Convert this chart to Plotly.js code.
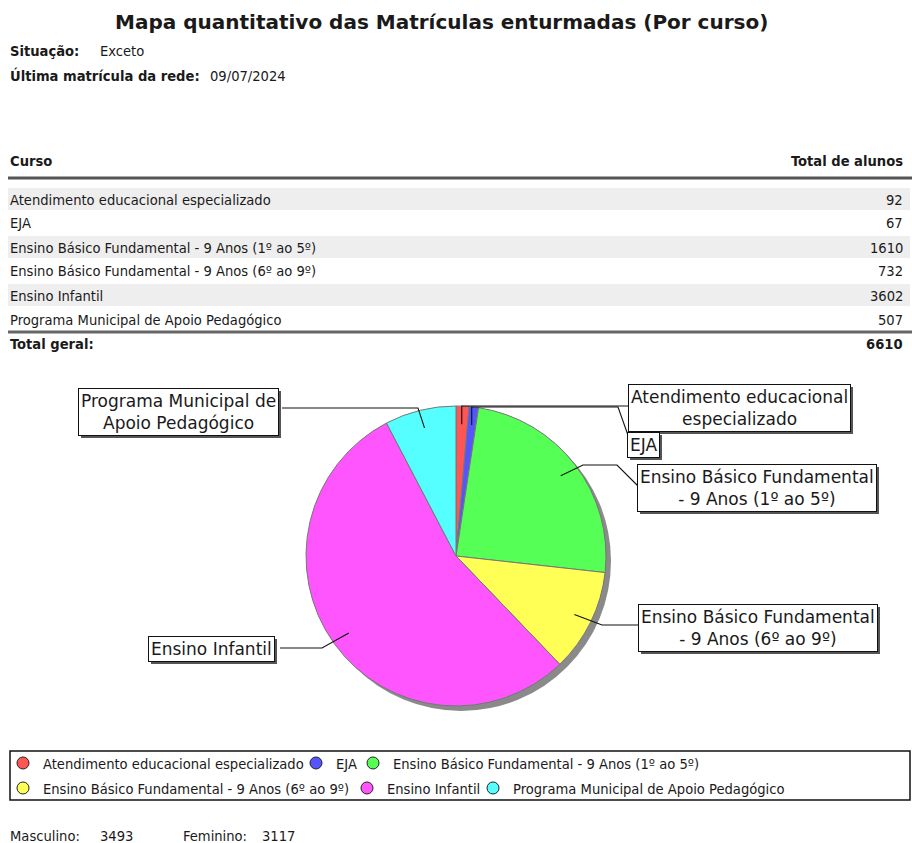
<!DOCTYPE html>
<html><head><meta charset="utf-8">
<script src="https://cdn.plot.ly/plotly-3.0.1.min.js"></script>
<style>html,body{margin:0;padding:0;background:#fff;}#chart{width:912px;height:843px;}</style>
</head><body><div id="chart"></div>
<script>
// ---- data ----
const reportTitle = 'Mapa quantitativo das Matrículas enturmadas (Por curso)';
const infoLabels = ['Situação:', 'Última matrícula da rede:'];
const infoValues = ['Exceto', '09/07/2024'];
const tableHeaders = ['Curso', 'Total de alunos'];
const categories = [
  'Atendimento educacional especializado',
  'EJA',
  'Ensino Básico Fundamental - 9 Anos (1º ao 5º)',
  'Ensino Básico Fundamental - 9 Anos (6º ao 9º)',
  'Ensino Infantil',
  'Programa Municipal de Apoio Pedagógico'
];
const totals = [92, 67, 1610, 732, 3602, 507];
const totalLabel = 'Total geral:';
const pieLabels = [
  'Atendimento educacional<br>especializado',
  'EJA',
  'Ensino Básico Fundamental<br>- 9 Anos (1º ao 5º)',
  'Ensino Básico Fundamental<br>- 9 Anos (6º ao 9º)',
  'Ensino Infantil',
  'Programa Municipal de<br>Apoio Pedagógico'
];
const sliceColors = ['#ff5555', '#5555ff', '#55ff55', '#ffff55', '#ff55ff', '#55ffff'];
const genderLabels = ['Masculino:', 'Feminino:'];
const genderValues = [3493, 3117];

// ---- layout helpers ----
const W = 912, H = 843;
const px = x => x / W;
const py = y => 1 - y / H;
const COND = 'DejaVu Sans Condensed, DejaVu Sans, sans-serif';
const SANS = 'DejaVu Sans, sans-serif';
const TXT = '#1a1a1a';
const FS = 14.6;

const annotations = [];
const shapes = [];
function txt(x, y, text, opts) {
  opts = opts || {};
  const xa = opts.xanchor || 'left';
  const dx = xa === 'left' ? -2 : (xa === 'right' ? 2 : 0);
  annotations.push({
    xref: 'paper', yref: 'paper', x: px(x + dx), y: py(y), text: text, showarrow: false,
    xanchor: xa, yanchor: 'middle',
    font: {family: opts.family || COND, size: opts.size || FS, color: TXT, weight: opts.bold ? 'bold' : 'normal'}
  });
}

// title + header info
txt(441, 22, reportTitle, {xanchor: 'center', family: SANS, size: 20, bold: true});
txt(10, 50, infoLabels[0], {bold: true});
txt(100, 50, infoValues[0]);
txt(10, 75, infoLabels[1], {bold: true});
txt(210, 75, infoValues[1]);

// table
txt(10, 161, tableHeaders[0], {bold: true});
txt(903, 161, tableHeaders[1], {bold: true, xanchor: 'right'});
shapes.push({type: 'line', xref: 'paper', yref: 'paper', x0: px(8), x1: px(912), y0: py(178), y1: py(178), line: {color: '#555', width: 3}, layer: 'below'});
const rowTop = 199, rowStep = 24;
categories.forEach((c, i) => {
  const yc = rowTop + i * rowStep;
  if (i % 2 === 0) {
    shapes.push({type: 'rect', xref: 'paper', yref: 'paper', x0: px(8), x1: px(910), y0: py(yc - 11), y1: py(yc + 11), fillcolor: '#eeeeee', line: {width: 0}, layer: 'below'});
  }
  txt(10, yc, c);
  txt(903, yc, String(totals[i]), {xanchor: 'right'});
});
const grand = totals.reduce((a, b) => a + b, 0);
shapes.push({type: 'line', xref: 'paper', yref: 'paper', x0: px(8), x1: px(912), y0: py(332), y1: py(332), line: {color: '#666', width: 3}, layer: 'below'});
txt(10, 343, totalLabel, {bold: true});
txt(903, 343, String(grand), {bold: true, xanchor: 'right'});

// pie geometry
const cx = 456, cy = 556, R = 150;
shapes.push({type: 'circle', xref: 'paper', yref: 'paper', x0: px(cx - R + 5), x1: px(cx + R + 5), y0: py(cy + R + 5), y1: py(cy - R + 5), fillcolor: '#8a8a8a', line: {width: 0}, layer: 'below'});

// leader lines: anchor inside each slice computed from data
const anchors = [];
let cum = 0;
totals.forEach(v => {
  const a = (cum + v / 2) / grand * 2 * Math.PI;
  cum += v;
  anchors.push([cx + 0.88 * R * Math.sin(a), cy - 0.88 * R * Math.cos(a)]);
});
const boxPos = [[628, 384], [627, 432], [637, 464], [638, 604], [148, 636], [78, 388]];
const bends = [
  a => [[a[0], 406], [628, 406]],
  a => [[a[0], 407], [618, 407], [629, 438]],
  a => [[583, 465], [617, 465], [638, 486]],
  a => [[602, 625], [639, 625]],
  a => [[322, 648], [280, 648]],
  a => [[418, 408], [282, 408]]
];
anchors.forEach((a, i) => {
  const pts = [a].concat(bends[i](a));
  const d = pts.map((p, k) => (k ? 'L' : 'M') + px(p[0]).toFixed(5) + ',' + py(p[1]).toFixed(5)).join(' ');
  shapes.push({type: 'path', xref: 'paper', yref: 'paper', path: d, line: {color: '#111', width: 1.1}, layer: 'above'});
});
const labelStart = annotations.length;
pieLabels.forEach((t, i) => {
  const b = boxPos[i];
  annotations.push({xref: 'paper', yref: 'paper', x: px(b[0]), y: py(b[1]), xanchor: 'left', yanchor: 'top', text: t, showarrow: false, align: 'center',
    font: {family: SANS, size: 17, color: TXT}, bgcolor: '#ffffff', bordercolor: '#111', borderwidth: 1, borderpad: 2});
});

// legend frame
shapes.push({type: 'rect', xref: 'paper', yref: 'paper', x0: px(10), x1: px(910), y0: py(800), y1: py(751), line: {color: '#111', width: 1.5}, fillcolor: 'rgba(0,0,0,0)'});

// gender footer
txt(10, 835, genderLabels[0]);
txt(100, 835, String(genderValues[0]));
txt(183, 835, genderLabels[1]);
txt(262, 835, String(genderValues[1]));

const traces = [{
  type: 'pie', labels: categories, values: totals, sort: false, direction: 'clockwise', rotation: 0,
  marker: {colors: sliceColors, line: {color: '#777', width: 1}},
  textinfo: 'none', hoverinfo: 'label+value', showlegend: false,
  domain: {x: [px(cx - R), px(cx + R)], y: [py(cy + R), py(cy - R)]}
}];
const legendIds = categories.map((c, i) => i === 0 ? 'legend' : 'legend' + (i + 1));
categories.forEach((c, i) => {
  traces.push({type: 'scatter', x: [null], y: [null], mode: 'markers', name: c, showlegend: true, hoverinfo: 'skip',
    legend: legendIds[i],
    marker: {color: sliceColors[i], size: 12, line: {color: '#222', width: 1}}});
});

// legend entry placement (text start x, row y) – layout positions
const legendSlots = [[40, 763], [333, 763], [390, 763], [40, 788], [384, 788], [510, 788]];
const layout = {
  width: W, height: H, margin: {l: 0, r: 0, t: 0, b: 0},
  paper_bgcolor: '#ffffff', plot_bgcolor: 'rgba(0,0,0,0)',
  xaxis: {visible: false}, yaxis: {visible: false},
  showlegend: true,
  annotations: annotations, shapes: shapes
};
legendIds.forEach((id, i) => {
  layout[id] = {orientation: 'h', xanchor: 'left', yanchor: 'middle', x: px(legendSlots[i][0] - 37), y: py(legendSlots[i][1]),
    font: {family: COND, size: FS, color: TXT}, bgcolor: 'rgba(0,0,0,0)', borderwidth: 0, itemclick: false, itemdoubleclick: false};
});

const gd = document.getElementById('chart');
Plotly.newPlot(gd, traces, layout, {displayModeBar: false, staticPlot: true}).then(() => {
  // drop shadows behind the label boxes, sized from the rendered boxes
  const base = gd.getBoundingClientRect();
  const shadows = [];
  pieLabels.forEach((t, i) => {
    const el = gd.querySelector('.annotation[data-index="' + (labelStart + i) + '"] rect.bg');
    if (!el) return;
    const r = el.getBoundingClientRect();
    const l = r.left - base.left, tp = r.top - base.top;
    shadows.push({type: 'rect', xref: 'paper', yref: 'paper', x0: px(l + 2.5), x1: px(l + r.width + 2.5), y0: py(tp + r.height + 2.5), y1: py(tp + 2.5),
      fillcolor: '#555', line: {width: 0}, layer: 'above'});
  });
  return Plotly.relayout(gd, {shapes: shapes.concat(shadows)});
});
</script></body></html>
